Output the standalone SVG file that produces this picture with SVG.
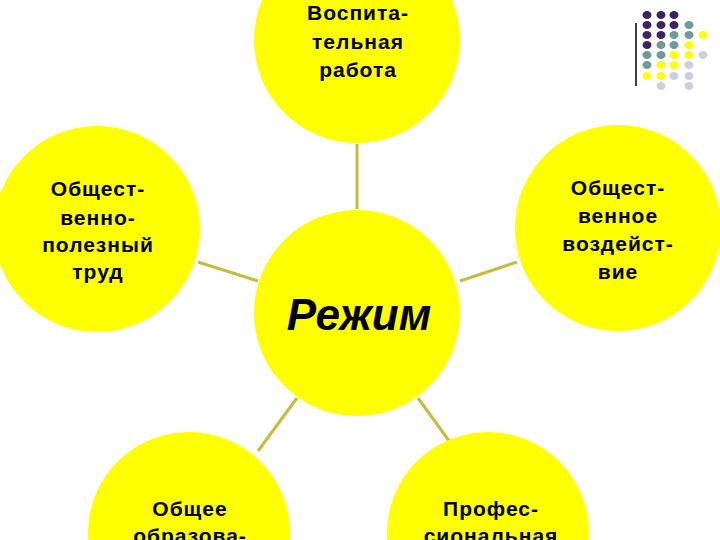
<svg xmlns="http://www.w3.org/2000/svg" width="720" height="540" viewBox="0 0 720 540">
<style>
.c{fill:#FFFF00}
.t{font-family:"Liberation Sans",Arial,sans-serif;font-weight:bold;font-size:21px;letter-spacing:1px;fill:#000;text-anchor:middle}
.big{font-family:"Liberation Sans",Arial,sans-serif;font-weight:bold;font-style:italic;font-size:44px;fill:#000;text-anchor:middle}
.ln{stroke:#C4BC3C;stroke-width:3;fill:none}
.p{fill:#3D2363}.q{fill:#6E9A9A}.y{fill:#FFFF00}.g{fill:#CFCFDC}
</style>
<rect width="720" height="540" fill="#fff"/>
<g id="connectors">
<line class="ln" x1="357" y1="144" x2="357" y2="209"/>
<line class="ln" x1="198" y1="262" x2="258" y2="281"/>
<line class="ln" x1="460" y1="281" x2="517" y2="262"/>
<line class="ln" x1="297" y1="398" x2="258" y2="451"/>
<line class="ln" x1="418" y1="398" x2="455" y2="449"/>
</g>
<g id="n-top"><circle class="c" cx="357" cy="40" r="103"/>
<text class="t" x="358" y="20">Воспита-</text><text class="t" x="358" y="49">тельная</text><text class="t" x="358" y="77">работа</text></g>
<g id="n-left"><circle class="c" cx="97" cy="229" r="103"/>
<text class="t" x="98" y="196">Общест-</text><text class="t" x="98" y="225">венно-</text><text class="t" x="98" y="252">полезный</text><text class="t" x="98" y="279">труд</text></g>
<g id="n-right"><circle class="c" cx="618" cy="228" r="103"/>
<text class="t" x="618" y="195">Общест-</text><text class="t" x="618" y="223">венное</text><text class="t" x="618" y="251">воздейст-</text><text class="t" x="618" y="279">вие</text></g>
<g id="n-center"><circle class="c" cx="357" cy="313" r="103"/>
<text class="big" x="359" y="330">Режим</text></g>
<g id="n-bl"><circle class="c" cx="189" cy="533" r="101"/>
<text class="t" x="190" y="516">Общее</text><text class="t" x="190" y="543">образова-</text></g>
<g id="n-br"><circle class="c" cx="488" cy="533" r="101"/>
<text class="t" x="491" y="516">Профес-</text><text class="t" x="491" y="543">сиональная</text></g>
<g id="decor">
<line x1="636" y1="23" x2="636" y2="86" stroke="#000" stroke-width="1.5"/>
<g>
<ellipse class="p" cx="647" cy="15" rx="4.5" ry="4"/><ellipse class="p" cx="661" cy="15" rx="4.5" ry="4"/><ellipse class="p" cx="674" cy="15" rx="4.5" ry="4"/>
<ellipse class="p" cx="647" cy="25" rx="4.5" ry="4"/><ellipse class="p" cx="661" cy="25" rx="4.5" ry="4"/><ellipse class="p" cx="674" cy="25" rx="4.5" ry="4"/><ellipse class="q" cx="689" cy="25" rx="4.5" ry="4"/>
<ellipse class="p" cx="647" cy="35" rx="4.5" ry="4"/><ellipse class="p" cx="661" cy="35" rx="4.5" ry="4"/><ellipse class="q" cx="674" cy="35" rx="4.5" ry="4"/><ellipse class="q" cx="689" cy="35" rx="4.5" ry="4"/><ellipse class="y" cx="703" cy="35" rx="4.5" ry="4"/>
<ellipse class="p" cx="647" cy="45" rx="4.5" ry="4"/><ellipse class="q" cx="661" cy="45" rx="4.5" ry="4"/><ellipse class="q" cx="674" cy="45" rx="4.5" ry="4"/><ellipse class="y" cx="689" cy="45" rx="4.5" ry="4"/>
<ellipse class="q" cx="647" cy="55" rx="4.5" ry="4"/><ellipse class="q" cx="661" cy="55" rx="4.5" ry="4"/><ellipse class="y" cx="674" cy="55" rx="4.5" ry="4"/><ellipse class="y" cx="689" cy="55" rx="4.5" ry="4"/><ellipse class="g" cx="703" cy="55" rx="4.5" ry="4"/>
<ellipse class="q" cx="647" cy="65" rx="4.5" ry="4"/><ellipse class="y" cx="661" cy="65" rx="4.5" ry="4"/><ellipse class="y" cx="674" cy="65" rx="4.5" ry="4"/><ellipse class="g" cx="689" cy="65" rx="4.5" ry="4"/>
<ellipse class="y" cx="647" cy="76" rx="4.5" ry="4"/><ellipse class="y" cx="661" cy="76" rx="4.5" ry="4"/><ellipse class="g" cx="674" cy="76" rx="4.5" ry="4"/><ellipse class="g" cx="689" cy="76" rx="4.5" ry="4"/>
<ellipse class="g" cx="661" cy="86" rx="4.5" ry="4"/><ellipse class="g" cx="689" cy="86" rx="4.5" ry="4"/>
</g>
</g>
</svg>
